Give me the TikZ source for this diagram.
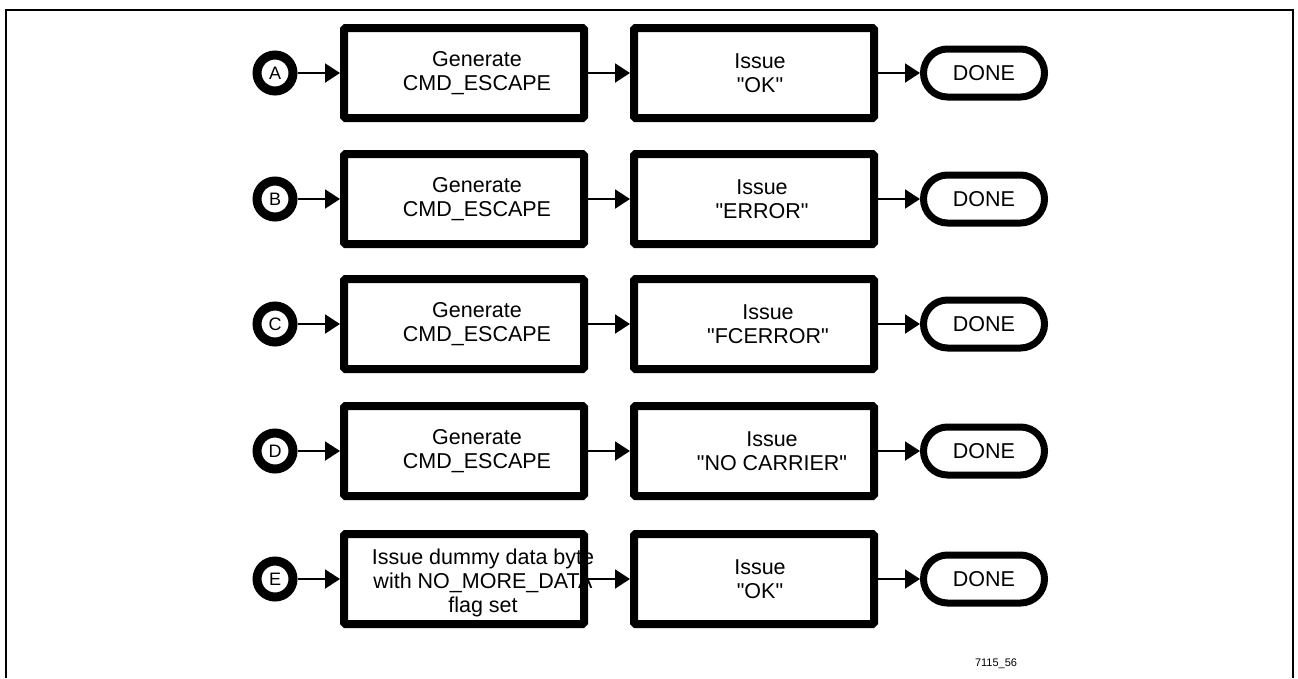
\documentclass[tikz,border=0pt]{standalone}
\usepackage{fontspec}
\setmainfont{Liberation Sans}
\usetikzlibrary{arrows.meta}

\begin{document}
\begin{tikzpicture}[x=1pt,y=-1pt]
\tikzstyle{stepbox}=[draw, rectangle, line width=8pt, minimum width=240pt, minimum height=90pt, inner sep=0pt, rounded corners=1.5pt];
\tikzstyle{entry}=[draw, circle, line width=9pt, minimum size=36pt, inner sep=0pt, font=\fontsize{18}{20}\selectfont];
\tikzstyle{done}=[draw, rectangle, rounded corners=24pt, line width=7pt, minimum width=121pt, minimum height=48pt, inner sep=0pt, font=\fontsize{21.5}{24}\selectfont];
\tikzstyle{txt}=[align=center, inner sep=0pt, font=\fontsize{21.5}{24}\selectfont];
\tikzstyle{flow}=[line width=2pt, -{Triangle[length=15pt,width=19pt]}];

\useasboundingbox (0,0) rectangle (1298,678);
\draw[line width=2pt] (6,678) -- (6,10) -- (1293,10) -- (1293,678);

% texts first, the boxes are drawn over them
\draw (477,73) node[txt] (a1t) {Generate\\CMD\_ESCAPE};
\draw (477,199) node[txt] (b1t) {Generate\\CMD\_ESCAPE};
\draw (477,324) node[txt] (c1t) {Generate\\CMD\_ESCAPE};
\draw (477,451) node[txt] (d1t) {Generate\\CMD\_ESCAPE};
\draw (483,583) node[txt] (e1t) {Issue dummy data byte\\with NO\_MORE\_DATA\\flag set};

\draw (760,73) node[txt] (a2t) {Issue\\\textquotedbl OK\textquotedbl};
\draw (762,199) node[txt] (b2t) {Issue\\\textquotedbl ERROR\textquotedbl};
\draw (768,324) node[txt] (c2t) {Issue\\\textquotedbl FCERROR\textquotedbl};
\draw (772,451) node[txt] (d2t) {Issue\\\textquotedbl NO CARRIER\textquotedbl};
\draw (760,579) node[txt] (e2t) {Issue\\\textquotedbl OK\textquotedbl};

\draw (275,73) node[entry] (a) {A};
\draw (275,199) node[entry] (b) {B};
\draw (275,324) node[entry] (c) {C};
\draw (275,451) node[entry] (d) {D};
\draw (275,579) node[entry] (e) {E};

\draw (464,73) node[stepbox] (a1) {};
\draw (464,199) node[stepbox] (b1) {};
\draw (464,324) node[stepbox] (c1) {};
\draw (464,451) node[stepbox] (d1) {};
\draw (464,579) node[stepbox] (e1) {};

\draw (754,73) node[stepbox] (a2) {};
\draw (754,199) node[stepbox] (b2) {};
\draw (754,324) node[stepbox] (c2) {};
\draw (754,451) node[stepbox] (d2) {};
\draw (754,579) node[stepbox] (e2) {};

\draw (984,73) node[done] (a3) {DONE};
\draw (984,199) node[done] (b3) {DONE};
\draw (984,324) node[done] (c3) {DONE};
\draw (984,451) node[done] (d3) {DONE};
\draw (984,579) node[done] (e3) {DONE};

\draw[flow] (a) -- (a1);
\draw[flow] (b) -- (b1);
\draw[flow] (c) -- (c1);
\draw[flow] (d) -- (d1);
\draw[flow] (e) -- (e1);

\draw[flow] (a1) -- (a2);
\draw[flow] (b1) -- (b2);
\draw[flow] (c1) -- (c2);
\draw[flow] (d1) -- (d2);
\draw[flow] (e1) -- (e2);

\draw[flow] (a2) -- (a3);
\draw[flow] (b2) -- (b3);
\draw[flow] (c2) -- (c3);
\draw[flow] (d2) -- (d3);
\draw[flow] (e2) -- (e3);

\draw (996,664) node[font=\fontsize{11}{13}\selectfont] (fig) {7115\_56};
\end{tikzpicture}
\end{document}
